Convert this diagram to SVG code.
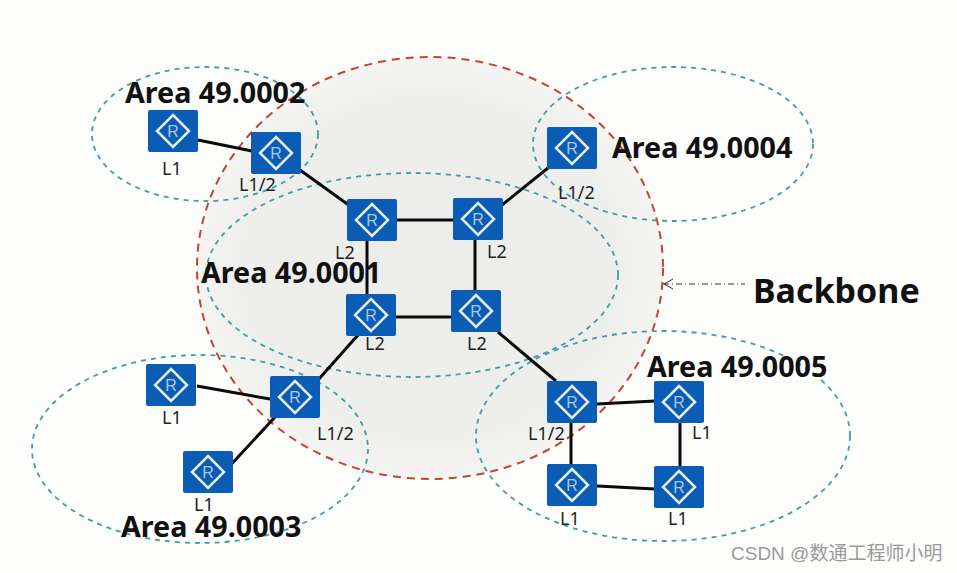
<svg xmlns="http://www.w3.org/2000/svg" xmlns:xlink="http://www.w3.org/1999/xlink" width="957" height="573" viewBox="0 0 957 573">
<style>
.area{fill:none;stroke:#3f9fa8;stroke-width:1.8;stroke-dasharray:5 5}
.bb{fill:url(#bbf);stroke:#c4452f;stroke-width:2;stroke-dasharray:8 6}
.lnk{stroke:#0a0a0a;stroke-width:3;fill:none}
.big{font:bold 28.7px "Noto Sans","Open Sans","Liberation Sans",sans-serif;fill:#111}
.lab{font:18px "Noto Sans","Liberation Sans",sans-serif;fill:#222}
.box{fill:#0b5cb4}
.dia{fill:none;stroke:#e6eef8;stroke-width:2.5}
.r{font:16px "Liberation Sans",sans-serif;fill:#a9c8ea;text-anchor:middle}
</style>
<defs>
<radialGradient id="bbf" cx="0.5" cy="0.5" r="0.5">
<stop offset="0" stop-color="#ececeb"/><stop offset="0.8" stop-color="#eeeeed"/><stop offset="1" stop-color="#f4f4f3"/>
</radialGradient>
<g id="rt">
<rect class="box" x="-25" y="-21" width="50" height="42" rx="2"/>
<path class="dia" d="M0 -16L16 0L0 16L-16 0Z"/>
<text class="r" x="0" y="5.500">R</text>
</g>
</defs>
<rect width="957" height="573" fill="#fdfdfc"/>
<ellipse class="bb" cx="430" cy="268" rx="233" ry="211"/>
<g id="areas">
<ellipse class="area" cx="205" cy="134" rx="113" ry="67"/>
<ellipse class="area" cx="673" cy="144" rx="140" ry="77"/>
<ellipse class="area" cx="412" cy="275" rx="206" ry="102"/>
<ellipse class="area" cx="200" cy="449" rx="168" ry="94"/>
<ellipse class="area" cx="663" cy="436" rx="187" ry="105"/>
</g>
<g id="connectors">
<path class="lnk" d="M198 140L252 151M300 170L350 206M396 220L454 220M502 205L548 168M367 240L367 295M475 240L475 292M396 317L452 317M358 335L318 380M498 332L556 381M197 386L270 399M276 416L226 470M597 404L655 401M680 421L680 466M571 421L571 465M597 486L655 489"/>
<path d="M663 284L745 284" stroke="#333" stroke-width="1" stroke-dasharray="6 3 1 3" fill="none"/>
<path d="M673 279L664 284L673 289" stroke="#333" stroke-width="1" fill="none"/>
</g>
<g id="r1"><use xlink:href="#rt" href="#rt" x="173" y="131"/><text class="lab" x="162" y="175">L1</text></g>
<g id="r2"><use xlink:href="#rt" href="#rt" x="276" y="153"/><text class="lab" x="239" y="191">L1/2</text></g>
<g id="r3"><use xlink:href="#rt" href="#rt" x="572" y="148"/><text class="lab" x="558" y="199">L1/2</text></g>
<g id="r4"><use xlink:href="#rt" href="#rt" x="372" y="220"/><text class="lab" x="335" y="259">L2</text></g>
<g id="r5"><use xlink:href="#rt" href="#rt" x="478" y="219"/><text class="lab" x="487" y="258">L2</text></g>
<g id="r6"><use xlink:href="#rt" href="#rt" x="371" y="315"/><text class="lab" x="365" y="350">L2</text></g>
<g id="r7"><use xlink:href="#rt" href="#rt" x="476" y="311"/><text class="lab" x="467" y="350">L2</text></g>
<g id="r8"><use xlink:href="#rt" href="#rt" x="171" y="385"/><text class="lab" x="162" y="424">L1</text></g>
<g id="r9"><use xlink:href="#rt" href="#rt" x="295" y="397"/><text class="lab" x="317" y="440">L1/2</text></g>
<g id="r10"><use xlink:href="#rt" href="#rt" x="208" y="472"/><text class="lab" x="194" y="511">L1</text></g>
<g id="r11"><use xlink:href="#rt" href="#rt" x="572" y="402"/><text class="lab" x="528" y="440">L1/2</text></g>
<g id="r12"><use xlink:href="#rt" href="#rt" x="679" y="402"/><text class="lab" x="692" y="439">L1</text></g>
<g id="r13"><use xlink:href="#rt" href="#rt" x="572" y="485"/><text class="lab" x="560" y="525">L1</text></g>
<g id="r14"><use xlink:href="#rt" href="#rt" x="679" y="487"/><text class="lab" x="668" y="525">L1</text></g>
<text class="big" x="125" y="103">Area 49.0002</text>
<text class="big" x="612" y="158">Area 49.0004</text>
<text class="big" x="201" y="283">Area 49.0001</text>
<text class="big" x="647" y="377">Area 49.0005</text>
<text class="big" x="121" y="537">Area 49.0003</text>
<text x="753" y="303" font-family="'Noto Sans','Open Sans',sans-serif" font-weight="700" font-size="34" fill="#111">Backbone</text>
<text x="731" y="560" font-family="'Liberation Sans','Noto Sans CJK SC',sans-serif" font-size="19" fill="#9a9a9a">CSDN @数通工程师小明</text>
</svg>
